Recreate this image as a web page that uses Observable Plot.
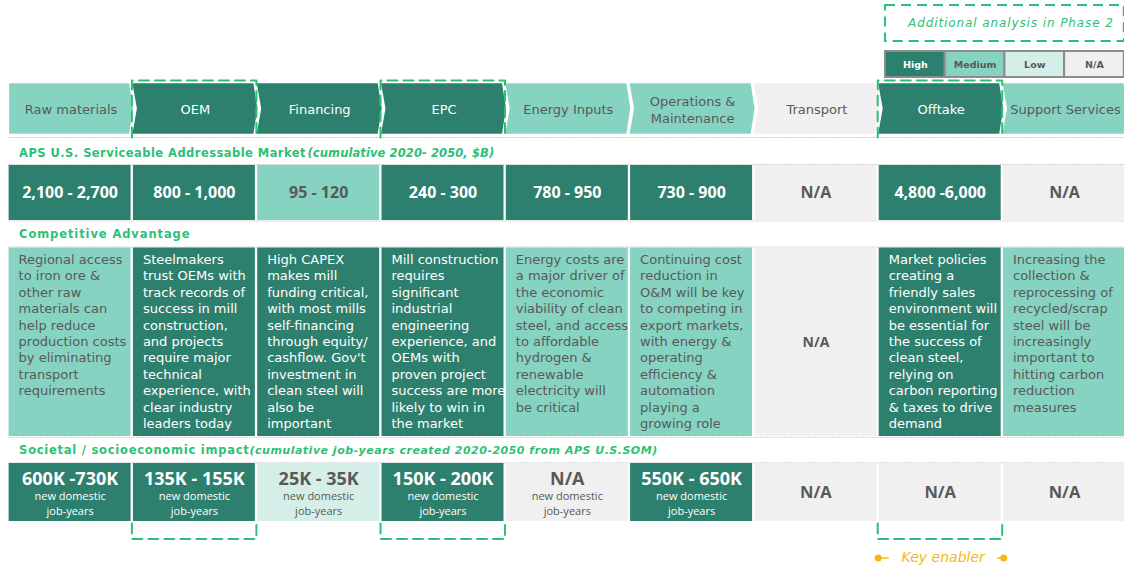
<!DOCTYPE html>
<html>
<head>
<meta charset="utf-8">
<script src="https://cdn.jsdelivr.net/npm/d3@7"></script>
<script src="https://cdn.jsdelivr.net/npm/@observablehq/plot@0.6"></script>
<style>
  html, body { margin: 0; padding: 0; background: #fff; }
  #chart { width: 1124px; height: 567px; overflow: hidden; }
</style>
</head>
<body>
<div id="chart"></div>
<script>
// ---------------- DATA ----------------
const stages = ["Raw materials", "OEM", "Financing", "EPC", "Energy Inputs",
  "Operations &\nMaintenance", "Transport", "Offtake", "Support Services"];
const levels = ["High", "Medium", "Low", "N/A"];
const stageLevels = ["Medium", "High", "High", "High", "Medium", "Medium", "N/A", "High", "Medium"];

const samTitle = "APS U.S. Serviceable Addressable Market";
const samNote = "(cumulative 2020- 2050, $B)";
const samValues = ["2,100 - 2,700", "800 - 1,000", "95 - 120", "240 - 300", "780 - 950",
  "730 - 900", "N/A", "4,800 -6,000", "N/A"];
const samLevels = ["High", "High", "Medium", "High", "High", "High", "N/A", "High", "N/A"];

const advTitle = "Competitive Advantage";
const advTexts = [
  "Regional access\nto iron ore &\nother raw\nmaterials can\nhelp reduce\nproduction costs\nby eliminating\ntransport\nrequirements",
  "Steelmakers\ntrust OEMs with\ntrack records of\nsuccess in mill\nconstruction,\nand projects\nrequire major\ntechnical\nexperience, with\nclear industry\nleaders today",
  "High CAPEX\nmakes mill\nfunding critical,\nwith most mills\nself-financing\nthrough equity/\ncashflow. Gov't\ninvestment in\nclean steel will\nalso be\nimportant",
  "Mill construction\nrequires\nsignificant\nindustrial\nengineering\nexperience, and\nOEMs with\nproven project\nsuccess are more\nlikely to win in\nthe market",
  "Energy costs are\na major driver of\nthe economic\nviability of clean\nsteel, and access\nto affordable\nhydrogen &\nrenewable\nelectricity will\nbe critical",
  "Continuing cost\nreduction in\nO&M will be key\nto competing in\nexport markets,\nwith energy &\noperating\nefficiency &\nautomation\nplaying a\ngrowing role",
  "N/A",
  "Market policies\ncreating a\nfriendly sales\nenvironment will\nbe essential for\nthe success of\nclean steel,\nrelying on\ncarbon reporting\n& taxes to drive\ndemand",
  "Increasing the\ncollection &\nreprocessing of\nrecycled/scrap\nsteel will be\nincreasingly\nimportant to\nhitting carbon\nreduction\nmeasures"
];
const advLevels = ["Medium", "High", "High", "High", "Medium", "Medium", "N/A", "High", "Medium"];

const jobsTitle = "Societal / socioeconomic impact";
const jobsNote = "(cumulative job-years created 2020-2050 from APS U.S.SOM)";
const jobValues = ["600K -730K", "135K - 155K", "25K - 35K", "150K - 200K", "N/A",
  "550K - 650K", "N/A", "N/A", "N/A"];
const jobSubtitle = "new domestic\njob-years";
const jobHasSubtitle = [true, true, true, true, true, true, false, false, false];
const jobLevels = ["High", "High", "Low", "High", "N/A", "High", "N/A", "N/A", "N/A"];

const phase2Stages = ["OEM", "EPC", "Offtake"];
const phase2Note = "Additional analysis in Phase 2";
const keyEnablerStage = "Offtake";
const keyEnablerLabel = "Key enabler";

// ---------------- STYLE / LAYOUT ----------------
const levelColors = ["#2e806e", "#86d3c1", "#d5efe8", "#f0f0f0"];
const GREEN = "#2ebf77";
const ORANGE = "#f6b80f";
const GRAY_TEXT = "#595959";
const P = 124.3;              // column pitch in px
const px = v => v / P;        // px -> column units
const CW = px(122);           // cell width in column units
const layout = {
  header: {top: 82.7, bottom: 133.3, text: 108.5},
  sam: {top: 165, bottom: 220, label: 152.5, text: 192.5, noteX: 307},
  adv: {top: 247.5, bottom: 436, label: 233.5, text: 251.8},
  jobs: {top: 463, bottom: 521, label: 449.5, value: 478.5, sub: 502.3, na: 492, noteX: 249},
  seps: [137, 164, 220.5, 246.5, 436.8, 462.3],
  phaseBox: {top: 5, bottom: 41},
  legend: {top: 51, bottom: 77, x0: px(885 - 8.6), w: px(59.7)},
  boxTop: {top: 80, bottom: 137},
  boxBottom: {top: 523, bottom: 538.5},
  key: 557.5
};

// ---------------- DERIVED TABLES ----------------
const idx = stages.map((_, i) => i);
const headers = idx.map(i => ({i, text: stages[i], level: stageLevels[i]}));
const cells = idx.flatMap(i => [
  {row: "sam", i, level: samLevels[i]},
  {row: "adv", i, level: advLevels[i]},
  {row: "jobs", i, level: jobLevels[i]}
]);
const sam = idx.map(i => ({i, text: samValues[i], level: samLevels[i]}));
const adv = idx.map(i => ({i, text: advTexts[i], level: advLevels[i]}));
const jobs = idx.map(i => ({i, text: jobValues[i], sub: jobHasSubtitle[i], level: jobLevels[i]}));

const chevrons = idx.flatMap(i => {
  const {top, bottom} = layout.header;
  const mid = (top + bottom) / 2;
  const l = i === 0 ? 0 : -px(1);
  const notch = i === 0 ? 0 : px(3.5);
  return [[i + l, top], [i + px(120), top], [i + px(124), mid], [i + px(120), bottom], [i + l, bottom], [i + notch, mid]]
    .map(([x, y]) => ({i, x, y, level: stageLevels[i]}));
});

const phaseIdx = phase2Stages.map(s => stages.indexOf(s));
const bracket = (i, yOpen, yClosed) => {
  const x1 = i - px(1.5), x2 = i + px(123);
  return [[x1, yOpen], [x1, yClosed], [x2, yClosed], [x2, yOpen]].map(([x, y]) => ({i, x, y}));
};
const topBoxes = phaseIdx.flatMap(i => bracket(i, layout.boxTop.bottom, layout.boxTop.top));
const bottomBoxes = phaseIdx.flatMap(i => bracket(i, layout.boxBottom.top, layout.boxBottom.bottom));

const kIdx = stages.indexOf(keyEnablerStage);
const keyDots = [kIdx - px(1), kIdx + px(124.5)];

// text split by fill color (white on dark cells)
const textPair = (data, opts) => [
  Plot.text(data, {...opts, filter: d => d.level === "High", fill: "white"}),
  Plot.text(data, {...opts, filter: d => d.level !== "High", fill: GRAY_TEXT})
];

const chart = Plot.plot({
  width: 1124,
  height: 567,
  margin: 0,
  x: {domain: [0, 9], range: [8.6, 8.6 + 9 * P], axis: null},
  y: {domain: [0, 567], range: [0, 567], axis: null},
  color: {domain: levels, range: levelColors},
  style: {fontFamily: "DejaVu Sans", background: "white"},
  marks: [
    // dotted separators
    Plot.ruleY(layout.seps, {x1: 0, x2: 9, stroke: "#bdbdbd", strokeDasharray: "1.2,1.2", strokeWidth: 1}),
    // header chevrons
    Plot.line(chevrons, {x: "x", y: "y", z: "i", fill: "level", stroke: "none", curve: "linear-closed"}),
    // body cells
    Plot.rect(cells, {
      x1: d => d.i, x2: d => d.i + CW,
      y1: d => layout[d.row].top, y2: d => layout[d.row].bottom,
      fill: "level"
    }),
    // legend
    Plot.rect(levels, {
      x1: (d, k) => layout.legend.x0 + k * layout.legend.w,
      x2: (d, k) => layout.legend.x0 + (k + 1) * layout.legend.w,
      y1: layout.legend.top, y2: layout.legend.bottom,
      fill: d => d, stroke: "#8c8c8c", strokeWidth: 2
    }),
    Plot.text(levels, {
      x: (d, k) => layout.legend.x0 + (k + 0.5) * layout.legend.w,
      y: (layout.legend.top + layout.legend.bottom) / 2,
      text: d => d, fontWeight: "bold", fontSize: 9.5,
      fill: d => d === "High" ? "white" : GRAY_TEXT
    }),
    // phase 2 note box
    Plot.rect([phase2Note], {
      x1: layout.legend.x0, x2: layout.legend.x0 + 4 * layout.legend.w,
      y1: layout.phaseBox.top, y2: layout.phaseBox.bottom,
      fill: "none", stroke: GREEN, strokeWidth: 2, strokeDasharray: "10,6"
    }),
    Plot.text([phase2Note], {
      x: layout.legend.x0 + 2.1 * layout.legend.w,
      y: (layout.phaseBox.top + layout.phaseBox.bottom) / 2,
      text: d => d, fill: GREEN, fontStyle: "italic", fontSize: 12
    }),
    // dashed phase-2 brackets
    Plot.line(topBoxes, {x: "x", y: "y", z: "i", stroke: GREEN, strokeWidth: 2, strokeDasharray: "10,6", curve: "linear"}),
    Plot.line(bottomBoxes, {x: "x", y: "y", z: "i", stroke: GREEN, strokeWidth: 2, strokeDasharray: "10,6", curve: "linear"}),
    // header text
    ...textPair(headers, {
      x: d => d.i + px(62), y: layout.header.text, text: "text",
      fontSize: 13, lineHeight: 1.28
    }),
    // section labels
    Plot.text([samTitle], {x: px(10), y: layout.sam.label, text: d => d, textAnchor: "start",
      fill: GREEN, fontWeight: "bold", fontSize: 11.5}),
    Plot.text([samNote], {x: px(layout.sam.noteX - 8.6), y: layout.sam.label, text: d => d, textAnchor: "start",
      fill: GREEN, fontWeight: "bold", fontStyle: "italic", fontSize: 11.5}),
    Plot.text([advTitle], {x: px(10), y: layout.adv.label, text: d => d, textAnchor: "start",
      fill: GREEN, fontWeight: "bold", fontSize: 11.5}),
    Plot.text([jobsTitle], {x: px(10), y: layout.jobs.label, text: d => d, textAnchor: "start",
      fill: GREEN, fontWeight: "bold", fontSize: 11.5}),
    Plot.text([jobsNote], {x: px(layout.jobs.noteX - 8.6), y: layout.jobs.label, text: d => d, textAnchor: "start",
      fill: GREEN, fontWeight: "bold", fontStyle: "italic", fontSize: 11}),
    // SAM values
    ...textPair(sam, {
      x: d => d.i + CW / 2, y: layout.sam.text, text: "text",
      fontFamily: "Open Sans", fontWeight: "bold", fontSize: 16
    }),
    // competitive advantage text
    ...textPair(adv.filter(d => d.text !== "N/A"), {
      x: d => d.i + px(9.5), y: layout.adv.text, text: "text",
      textAnchor: "start", lineAnchor: "top", fontSize: 13, lineHeight: 1.262
    }),
    ...textPair(adv.filter(d => d.text === "N/A"), {
      x: d => d.i + CW / 2, y: (layout.adv.top + layout.adv.bottom) / 2, text: "text",
      fontFamily: "Open Sans", fontWeight: "bold", fontSize: 14
    }),
    // jobs values
    ...textPair(jobs.filter(d => d.sub), {
      x: d => d.i + CW / 2, y: layout.jobs.value, text: "text",
      fontFamily: "Open Sans", fontWeight: "bold", fontSize: 18
    }),
    ...textPair(jobs.filter(d => d.sub), {
      x: d => d.i + CW / 2, y: layout.jobs.sub, text: () => jobSubtitle,
      fontFamily: "Open Sans", fontSize: 11, lineHeight: 1.3
    }),
    ...textPair(jobs.filter(d => !d.sub), {
      x: d => d.i + CW / 2, y: layout.jobs.na, text: "text",
      fontFamily: "Open Sans", fontWeight: "bold", fontSize: 16.5
    }),
    // key enabler
    Plot.ruleY([layout.key], {x1: keyDots[0], x2: keyDots[0] + px(11), stroke: ORANGE, strokeWidth: 1.5}),
    Plot.ruleY([layout.key], {x1: keyDots[1] - px(6), x2: keyDots[1], stroke: ORANGE, strokeWidth: 1.5}),
    Plot.dot(keyDots, {x: d => d, y: layout.key, r: 3.5, fill: ORANGE, stroke: "none"}),
    Plot.text([keyEnablerLabel], {x: kIdx + px(64), y: layout.key, text: d => d,
      fill: ORANGE, fontStyle: "italic", fontSize: 14})
  ]
});

// letter-spacing for the spaced-out labels (style only)
const spacing = new Map([
  [samTitle, "0.45px"], [advTitle, "0.9px"], [jobsTitle, "0.75px"],
  [samNote, "0.1px"], [jobsNote, "0.5px"], [phase2Note, "0.9px"]
]);
d3.select(chart).selectAll("text").each(function () {
  const s = spacing.get(this.textContent);
  if (s) this.style.letterSpacing = s;
});

document.getElementById("chart").appendChild(chart);
</script>
</body>
</html>
